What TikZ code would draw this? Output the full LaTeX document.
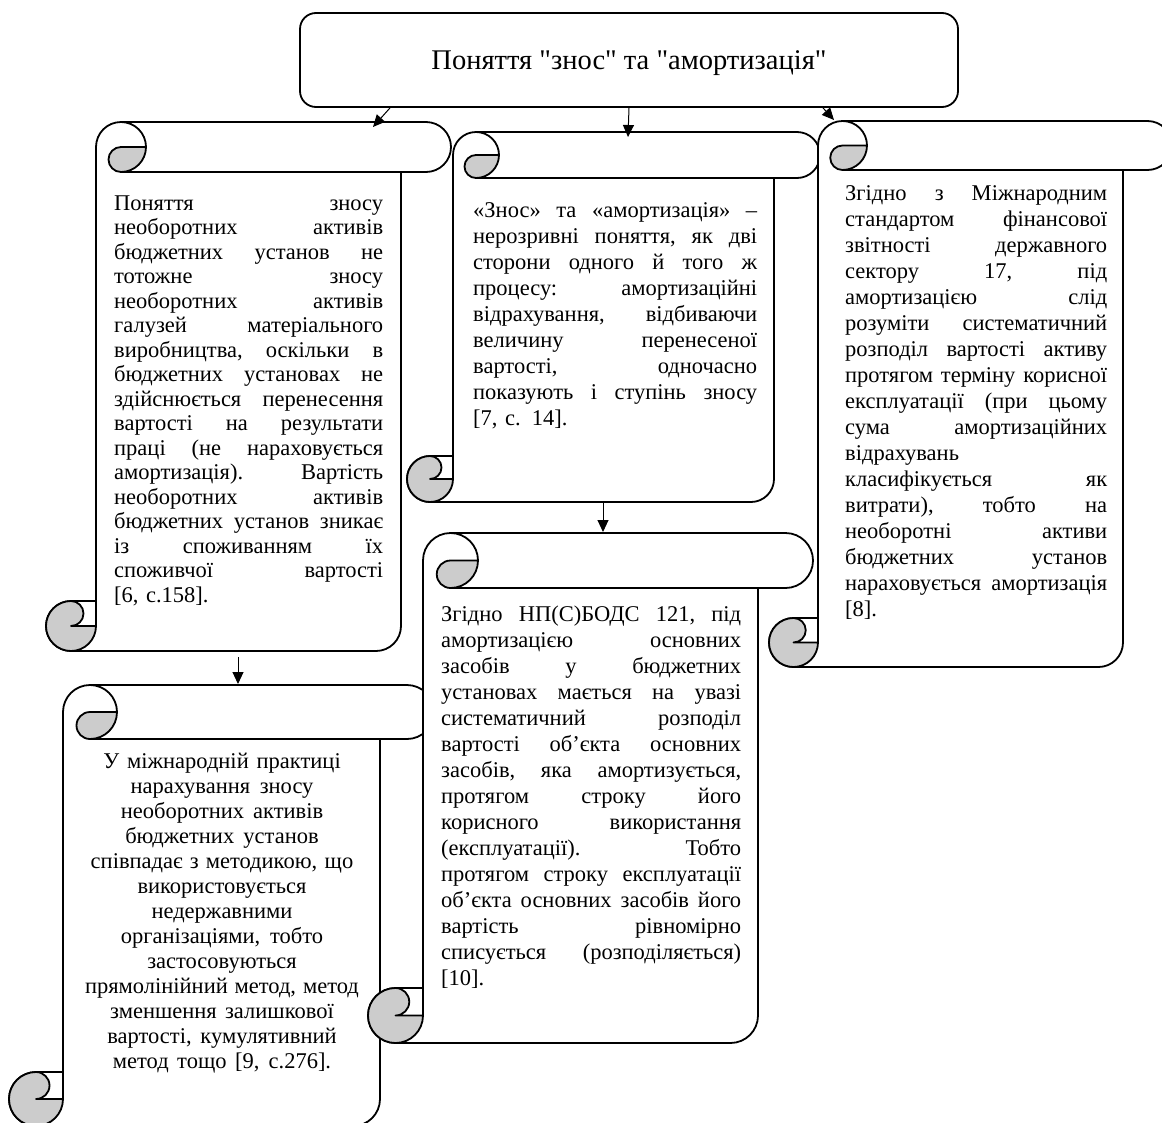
\documentclass[tikz,border=0pt]{standalone}
\usepackage{fontspec}
\setmainfont{Liberation Serif}[Ligatures=TeXOff]
\usetikzlibrary{arrows.meta}

\definecolor{curl}{gray}{0.8}
\tikzset{
  outline/.style={line width=1.8pt, line join=round},
  arr/.style={line width=1pt, -{Triangle[length=12pt,width=11pt]}},
  txt/.style={anchor=base west, inner sep=0pt, text width=#1, align=left,
    execute at begin node={\def\jlw{#1}}},
}
% one justified line of a scroll text
\newcommand{\jl}[1]{\leavevmode\hbox to \jlw{\frenchspacing\spaceskip=0.25em plus 1fil\relax #1}}
% scroll shape: left, top, right, bottom, roll size
\newcommand{\scrollbox}[5]{%
  \pgfmathsetmacro\scrL{#1}\pgfmathsetmacro\scrT{#2}%
  \pgfmathsetmacro\scrR{#3}\pgfmathsetmacro\scrB{#4}%
  \pgfmathsetmacro\scrC{#5}\pgfmathsetmacro\scrH{#5/2}\pgfmathsetmacro\scrQ{#5/4}%
  \filldraw[outline, fill=white] (\scrL+\scrC,\scrB-\scrH) -- (\scrL+\scrC,\scrT+\scrH)
    arc[start angle=180, end angle=270, radius=\scrH] -- (\scrR-\scrH,\scrT)
    arc[start angle=-90, end angle=90, radius=\scrH] -- (\scrR-\scrC,\scrT+\scrC)
    -- (\scrR-\scrC,\scrB-\scrH) arc[start angle=0, end angle=90, radius=\scrH]
    -- (\scrL+\scrH,\scrB) arc[start angle=90, end angle=270, radius=\scrH]
    -- (\scrL+\scrC,\scrB-\scrC) -- cycle;
  % bottom roll
  \filldraw[outline, fill=curl] (\scrL+\scrH,\scrB) arc[start angle=90, end angle=270, radius=\scrH]
    arc[start angle=-90, end angle=90, radius=\scrQ] -- (\scrL+\scrC,\scrB-\scrH)
    arc[start angle=0, end angle=90, radius=\scrH] -- cycle;
  % top roll
  \filldraw[outline, fill=curl] (\scrL+\scrC+\scrH,\scrT+\scrH) -- (\scrL+2*\scrC,\scrT+\scrH)
    arc[start angle=0, end angle=90, radius=\scrH]
    arc[start angle=90, end angle=270, radius=\scrQ] -- cycle;
  \draw[outline] (\scrL+\scrC+\scrH,\scrT) arc[start angle=-90, end angle=0, radius=\scrH];
  \draw[outline] (\scrR-\scrC,\scrT+\scrC) -- (\scrL+\scrC+\scrH,\scrT+\scrC);
}

\begin{document}
\begin{tikzpicture}[x=1pt, y=-1pt]
\useasboundingbox (0,0) rectangle (1162,1122);
\clip (0,0) rectangle (1162,1122);

\node[draw, outline, rounded corners=16pt, minimum width=658pt, minimum height=94pt,
  text depth=0pt, font=\fontsize{28.5}{32}\selectfont] (title) at (629,60) {Поняття "знос" та "амортизація"};

% scrolls
\scrollbox{46}{122}{451}{651}{50}
\scrollbox{407}{132}{820}{502}{46}
\scrollbox{769}{121}{1172}{667}{49}
\scrollbox{9}{685}{434}{1126}{54}
\scrollbox{368}{533}{813}{1043}{55}

\node[txt=269pt, font=\fontsize{22.5}{24.5}\selectfont] (t1) at (114,210) {%
\jl{Поняття зносу}\\
\jl{необоротних активів}\\
\jl{бюджетних установ не}\\
\jl{тотожне зносу}\\
\jl{необоротних активів}\\
\jl{галузей матеріального}\\
\jl{виробництва, оскільки в}\\
\jl{бюджетних установах не}\\
\jl{здійснюється перенесення}\\
\jl{вартості на результати}\\
\jl{праці (не нараховується}\\
\jl{амортизація). Вартість}\\
\jl{необоротних активів}\\
\jl{бюджетних установ зникає}\\
\jl{із споживанням їх}\\
\jl{споживчої вартості}\\{}[6, с.158].};

\node[txt=284pt, font=\fontsize{22.5}{26}\selectfont] (t2) at (473,217) {%
\jl{«Знос» та «амортизація» –}\\
\jl{нерозривні поняття, як дві}\\
\jl{сторони одного й того ж}\\
\jl{процесу: амортизаційні}\\
\jl{відрахування, відбиваючи}\\
\jl{величину перенесеної}\\
\jl{вартості, одночасно}\\
\jl{показують і ступінь зносу}\\{}[7, с. 14].};

\node[txt=262pt, font=\fontsize{22.5}{26}\selectfont] (t3) at (845,200) {%
\jl{Згідно з Міжнародним}\\
\jl{стандартом фінансової}\\
\jl{звітності державного}\\
\jl{сектору 17, під}\\
\jl{амортизацією слід}\\
\jl{розуміти систематичний}\\
\jl{розподіл вартості активу}\\
\jl{протягом терміну корисної}\\
\jl{експлуатації (при цьому}\\
\jl{сума амортизаційних}\\
відрахувань\\
\jl{класифікується як}\\
\jl{витрати), тобто на}\\
\jl{необоротні активи}\\
\jl{бюджетних установ}\\
\jl{нараховується амортизація}\\{}[8].};

\node[anchor=base, inner sep=0pt, text width=310pt, align=center,
  font=\fontsize{22.5}{25}\selectfont] (t4) at (222,768) {\spaceskip=0pt\relax
У міжнародній практиці\\
нарахування зносу\\
необоротних активів\\
бюджетних установ\\
співпадає з методикою, що\\
використовується\\
недержавними\\
організаціями, тобто\\
застосовуються\\
прямолінійний метод, метод\\
зменшення залишкової\\
вартості, кумулятивний\\
метод тощо [9, с.276].};

\node[txt=300pt, font=\fontsize{22.5}{26}\selectfont] (t5) at (441,621) {%
\jl{Згідно НП(С)БОДС 121, під}\\
\jl{амортизацією основних}\\
\jl{засобів у бюджетних}\\
\jl{установах мається на увазі}\\
\jl{систематичний розподіл}\\
\jl{вартості об’єкта основних}\\
\jl{засобів, яка амортизується,}\\
\jl{протягом строку його}\\
\jl{корисного використання}\\
\jl{(експлуатації). Тобто}\\
\jl{протягом строку експлуатації}\\
\jl{об’єкта основних засобів його}\\
\jl{вартість рівномірно}\\
\jl{списується (розподіляється)}\\{}[10].};

% arrows
\coordinate (in1) at (373,127);
\coordinate (in2) at (628,137);
\coordinate (in3) at (834,120);
\coordinate (out4) at (238,657);
\coordinate (in4) at (238,684);
\coordinate (out5) at (603,503);
\coordinate (in5) at (603,532);
\draw[arr] ([xshift=-239pt]title.south) -- (in1);
\draw[arr] (title.south) -- (in2);
\draw[arr] ([xshift=194pt]title.south) -- (in3);
\draw[arr] (out4) -- (in4);
\draw[arr] (out5) -- (in5);
\end{tikzpicture}
\end{document}
